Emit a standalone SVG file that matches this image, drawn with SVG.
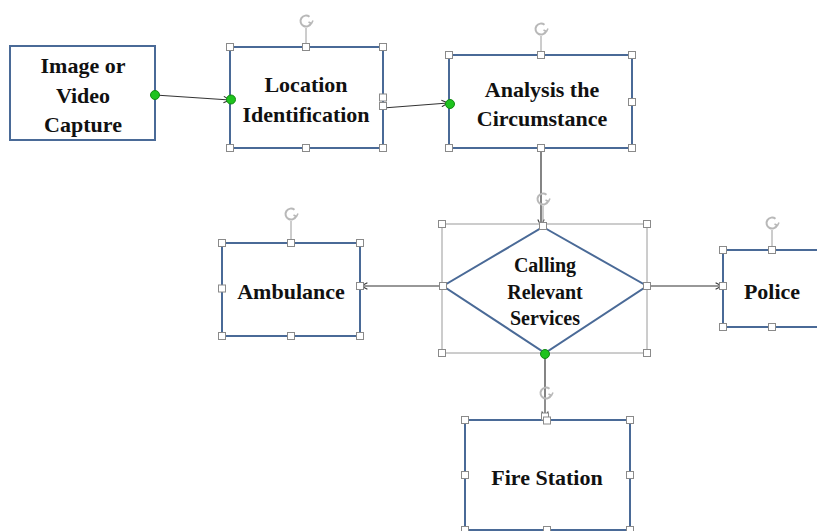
<svg xmlns="http://www.w3.org/2000/svg" width="817" height="531" viewBox="0 0 817 531">
<defs>
<style>
.box{fill:#fff;stroke:#4a6a97;stroke-width:2}
.sel{fill:none;stroke:#9a9a9a;stroke-width:1}
.h{fill:#fff;stroke:#8a8a8a;stroke-width:1}
.stem{stroke:#9a9a9a;stroke-width:1}
.conn{stroke:#333;stroke-width:1.2;fill:none}
.dot{fill:#1ec31e;stroke:#138a13;stroke-width:1}
.t{font-family:"Liberation Serif","Times New Roman",serif;font-weight:bold;font-size:22px;fill:#111;text-anchor:middle}
.ts{font-size:20px}
</style>
<marker id="arr" viewBox="0 0 10 10" refX="9" refY="5" markerWidth="8" markerHeight="8" markerUnits="userSpaceOnUse" orient="auto">
<path d="M1,1 L9,5 L1,9" fill="none" stroke="#333" stroke-width="1.3"/>
</marker>
<g id="rot">
<path d="M5.2,1.9 A5.5,5.5 0 1 1 3.5,-4.2" fill="none" stroke="#b8b8b8" stroke-width="2"/>
<path d="M2.5,1 L5.5,2.5 L7,-0.5" fill="none" stroke="#b8b8b8" stroke-width="1.6"/>
</g>
</defs>
<rect width="817" height="531" fill="#fff"/>

<g id="connectors">
<line class="conn" x1="155" y1="95" x2="230" y2="100" marker-end="url(#arr)"/>
<line class="conn" x1="383" y1="108" x2="448" y2="103" marker-end="url(#arr)"/>
<line class="conn" x1="541" y1="148" x2="541" y2="226" marker-end="url(#arr)"/>
<line class="conn" x1="443" y1="286" x2="361" y2="286" marker-end="url(#arr)"/>
<line class="conn" x1="647" y1="286" x2="722" y2="286" marker-end="url(#arr)"/>
<line class="conn" x1="545" y1="354" x2="545" y2="418" marker-end="url(#arr)"/>
</g>

<g id="capture">
<rect class="box" x="10" y="46" width="145" height="94" stroke-width="2.5"/>
<text class="t" x="83" y="73">Image or</text>
<text class="t" x="83" y="103">Video</text>
<text class="t" x="83" y="132">Capture</text>
<circle class="dot" cx="155" cy="95" r="4.5"/>
</g>

<g id="location">
<rect class="box" x="230" y="47" width="153" height="101"/>
<text class="t" x="306" y="92">Location</text>
<text class="t" x="306" y="122">Identification</text>
<line class="stem" x1="306" y1="28" x2="306" y2="47"/>
<use href="#rot" x="306" y="21"/>
<rect class="h" x="226.5" y="43.5" width="7" height="7"/>
<rect class="h" x="302.5" y="43.5" width="7" height="7"/>
<rect class="h" x="379.5" y="43.5" width="7" height="7"/>
<rect class="h" x="226.5" y="144.5" width="7" height="7"/>
<rect class="h" x="302.5" y="144.5" width="7" height="7"/>
<rect class="h" x="379.5" y="144.5" width="7" height="7"/>
<rect class="h" x="379.5" y="94" width="7" height="7"/>
<rect class="h" x="379.5" y="102.5" width="7" height="7"/>
<circle class="dot" cx="231" cy="99.5" r="4.5"/>
</g>

<g id="analysis">
<rect class="box" x="449" y="55" width="183" height="93"/>
<text class="t" x="542" y="97">Analysis the</text>
<text class="t" x="542" y="126">Circumstance</text>
<line class="stem" x1="541" y1="36" x2="541" y2="55"/>
<use href="#rot" x="541" y="29"/>
<rect class="h" x="445.5" y="51.5" width="7" height="7"/>
<rect class="h" x="537.5" y="51.5" width="7" height="7"/>
<rect class="h" x="628.5" y="51.5" width="7" height="7"/>
<rect class="h" x="628.5" y="98.5" width="7" height="7"/>
<rect class="h" x="445.5" y="144.5" width="7" height="7"/>
<rect class="h" x="537.5" y="144.5" width="7" height="7"/>
<rect class="h" x="628.5" y="144.5" width="7" height="7"/>
<circle class="dot" cx="450" cy="104" r="4.5"/>
</g>

<g id="calling">
<rect class="sel" x="442" y="224" width="205" height="129"/>
<polygon class="box" points="543,227 647,286 545,353 443,286" fill="#fff"/>
<text class="t ts" x="545" y="272">Calling</text>
<text class="t ts" x="545" y="299">Relevant</text>
<text class="t ts" x="545" y="325">Services</text>
<line class="stem" x1="543" y1="206" x2="543" y2="224"/>
<use href="#rot" x="543" y="199"/>
<rect class="h" x="438.5" y="220.5" width="7" height="7"/>
<rect class="h" x="643.5" y="220.5" width="7" height="7"/>
<rect class="h" x="539.5" y="222.5" width="7" height="7"/>
<rect class="h" x="439.5" y="282.5" width="7" height="7"/>
<rect class="h" x="643.5" y="282.5" width="7" height="7"/>
<rect class="h" x="438.5" y="349.5" width="7" height="7"/>
<rect class="h" x="643.5" y="349.5" width="7" height="7"/>
<circle class="dot" cx="545" cy="354" r="4.5"/>
</g>

<g id="ambulance">
<rect class="box" x="222" y="243" width="138" height="93"/>
<text class="t" x="291" y="299">Ambulance</text>
<line class="stem" x1="291" y1="221" x2="291" y2="243"/>
<use href="#rot" x="291" y="214"/>
<rect class="h" x="218.5" y="239.5" width="7" height="7"/>
<rect class="h" x="287.5" y="239.5" width="7" height="7"/>
<rect class="h" x="356.5" y="239.5" width="7" height="7"/>
<rect class="h" x="218.5" y="285" width="7" height="7"/>
<rect class="h" x="356.5" y="282.5" width="7" height="7"/>
<rect class="h" x="218.5" y="332.5" width="7" height="7"/>
<rect class="h" x="287.5" y="332.5" width="7" height="7"/>
<rect class="h" x="356.5" y="332.5" width="7" height="7"/>
</g>

<g id="police">
<rect class="box" x="723" y="250" width="110" height="77"/>
<text class="t" x="772" y="299">Police</text>
<line class="stem" x1="772" y1="230" x2="772" y2="250"/>
<use href="#rot" x="772" y="223"/>
<rect class="h" x="719.5" y="246.5" width="7" height="7"/>
<rect class="h" x="768.5" y="246.5" width="7" height="7"/>
<rect class="h" x="719.5" y="282.5" width="7" height="7"/>
<rect class="h" x="719.5" y="323.5" width="7" height="7"/>
<rect class="h" x="768.5" y="323.5" width="7" height="7"/>
</g>

<g id="fire">
<rect class="box" x="465" y="420" width="165" height="110"/>
<text class="t" x="547" y="485">Fire Station</text>
<line class="stem" x1="545" y1="400" x2="545" y2="420"/>
<use href="#rot" x="546" y="393"/>
<rect class="h" x="461.5" y="416.5" width="7" height="7"/>
<rect class="h" x="541.5" y="413" width="7" height="7"/>
<rect class="h" x="543.5" y="417" width="7" height="7"/>
<rect class="h" x="626.5" y="416.5" width="7" height="7"/>
<rect class="h" x="461.5" y="471.5" width="7" height="7"/>
<rect class="h" x="626.5" y="471.5" width="7" height="7"/>
<rect class="h" x="461.5" y="526.5" width="7" height="7"/>
<rect class="h" x="543.5" y="526.5" width="7" height="7"/>
<rect class="h" x="626.5" y="526.5" width="7" height="7"/>
</g>
</svg>
